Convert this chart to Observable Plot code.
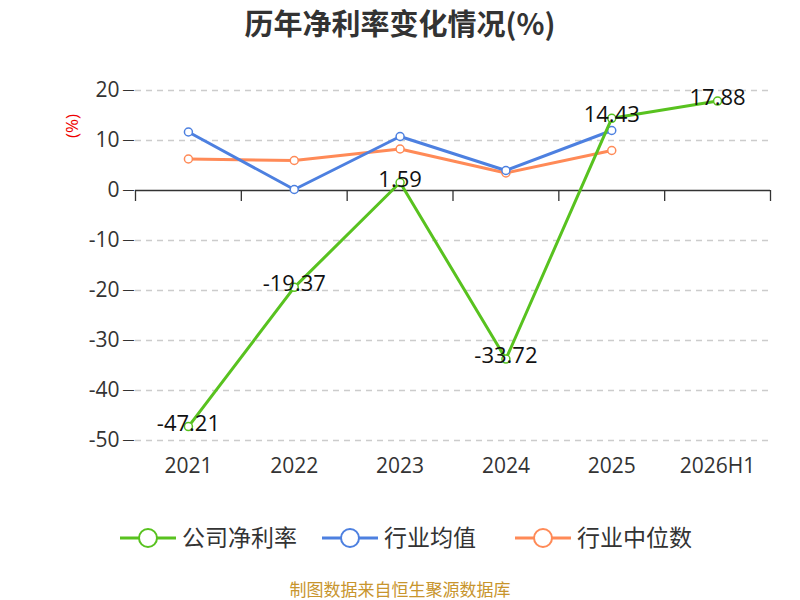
<!DOCTYPE html>
<html><head><meta charset="utf-8">
<script src="https://cdn.jsdelivr.net/npm/d3@7"></script>
<script src="https://cdn.jsdelivr.net/npm/@observablehq/plot@0.6"></script>
<style>
body{margin:0;font-family:"Noto Sans CJK SC","Noto Sans",sans-serif;}
#wrap{position:relative;width:800px;height:600px;}
.ov{position:absolute;left:0;width:800px;text-align:center;}
</style></head><body>
<div id="wrap">
<div id="chart"></div>
<div class="ov" style="top:1px;font-size:29px;font-weight:bold;color:#333">历年净利率变化情况(%)</div>
<div id="legend" class="ov" style="top:518px;height:40px"></div>
<div class="ov" style="top:576px;font-size:17px;color:#c8952d">制图数据来自恒生聚源数据库</div>
</div>
<script>
const years = ["2021","2022","2023","2024","2025","2026H1"];
const company = [-47.21,-19.37,1.59,-33.72,14.43,17.88];
const industryAvg = [11.7,0.2,10.8,4.0,12.0];
const industryMedian = [6.3,6.0,8.3,3.5,8.0];
const yTicks = [20,10,0,-10,-20,-30,-40,-50];
const names = ["公司净利率","行业均值","行业中位数"];
const colors = ["#58c21f","#4d80e0","#ff8a57"];

const mk = (arr, s) => arr.map((v,i)=>({x:i+0.5, y:v, s}));
const comp = mk(company, names[0]), avg = mk(industryAvg, names[1]), med = mk(industryMedian, names[2]);

const plot = Plot.plot({
  width:800, height:600, marginTop:90, marginBottom:160, marginLeft:135, marginRight:30,
  style:{fontFamily:"Open Sans, Noto Sans, sans-serif", fontSize:"20px", color:"#333", background:"transparent"},
  x:{domain:[0,6], axis:null},
  y:{domain:[-50,20], axis:null},
  marks:[
    Plot.ruleY(yTicks.filter(d=>d!==0), {stroke:"#ccc", strokeDasharray:"6,5", strokeWidth:1.3}),
    Plot.ruleY([0], {stroke:"#333", strokeWidth:1.3}),
    Plot.ruleX(d3.range(7), {y1:0, y2:-2.2, stroke:"#333", strokeWidth:1.3}),
    Plot.text(yTicks, {x:0, y:d=>d, text:d=>String(d), textAnchor:"end", dx:-16, fontSize:21, fill:"#333"}),
    Plot.text(yTicks, {x:0, y:d=>d, text:d=>"—", textAnchor:"end", dx:-1, fontSize:12, fill:"#333"}),
    Plot.text(years, {x:(d,i)=>i+0.5, y:-50, text:d=>d, dy:26, fontSize:21, fill:"#333"}),
    ...[[med,2],[avg,1],[comp,0]].flatMap(([d,k])=>[
      Plot.line(d,{x:"x",y:"y",stroke:colors[k],strokeWidth:3}),
      Plot.dot(d,{x:"x",y:"y",r:4,fill:"white",stroke:colors[k],strokeWidth:1.5})
    ]),
    Plot.text(comp,{x:"x",y:"y",text:d=>d.y.toFixed(2),dy:-3,fontSize:22,fill:"#111"})
  ]
});
document.getElementById("chart").appendChild(plot);

const svg = d3.select(plot);
svg.append("text").attr("transform","translate(78,126) rotate(-90)").attr("text-anchor","middle")
  .attr("fill","#e00").attr("font-size",17).text("(%)");

const lg = d3.select("#legend").append("svg").attr("width",800).attr("height",40);
const lx = [120,322,515];
names.forEach((n,i)=>{
  const g = lg.append("g").attr("transform",`translate(${lx[i]},20)`);
  g.append("line").attr("x1",0).attr("x2",56).attr("stroke",colors[i]).attr("stroke-width",3);
  g.append("circle").attr("cx",28).attr("r",9).attr("fill","white").attr("stroke",colors[i]).attr("stroke-width",2);
  g.append("text").attr("x",62).attr("y",8).attr("font-size",23).attr("fill","#333").text(n);
});
</script></body></html>
